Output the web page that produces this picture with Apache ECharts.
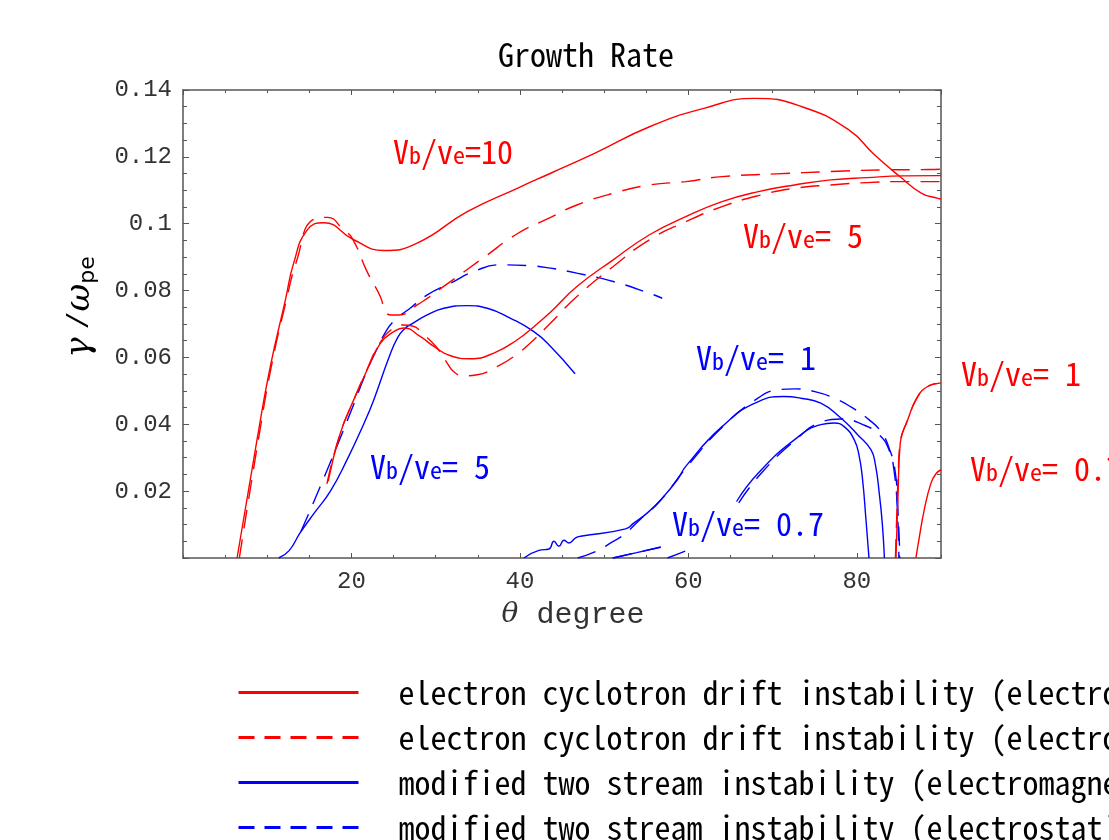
<!DOCTYPE html>
<html>
<head>
<meta charset="utf-8">
<title>Growth Rate</title>
<script src="https://cdn.jsdelivr.net/npm/echarts@6.0.0/dist/echarts.min.js"></script>
<style>
  html, body { margin: 0; padding: 0; background: #fff; }
  #chart { width: 1109px; height: 840px; }
</style>
</head>
<body>
<div id="chart"></div>
<script>
// legend names
const ECDI_EM = 'electron cyclotron drift instability (electromagnetic)'
const ECDI_ES = 'electron cyclotron drift instability (electrostatic)'
const MTSI_EM = 'modified two stream instability (electromagnetic)'
const MTSI_ES = 'modified two stream instability (electrostatic)'

// [theta degree, gamma / omega_pe]
// electron cyclotron drift instability, red
const ecdiEm10 = [[6.42, 0], [8.79, 0.0354], [10.37, 0.0573], [12.16, 0.0772], [13.14, 0.0882], [14.74, 0.0981], [16.71, 0.1003], [20.27, 0.0952], [23.84, 0.0920], [27.81, 0.0942], [33.75, 0.1036], [39.69, 0.1106], [43.65, 0.1151], [48.92, 0.1211], [55.39, 0.1290], [61.85, 0.1345], [67.88, 0.1375], [73.49, 0.1350], [79.09, 0.1280], [82.10, 0.1206], [85.12, 0.1141], [87.70, 0.1091], [89.64, 0.1076], [90, 0.1074]]
const ecdiEs10 = [[6.69, 0], [8.95, 0.0354], [10.49, 0.0573], [12.28, 0.0772], [13.46, 0.0886], [15.48, 0.1013], [17.15, 0.1019], [19.08, 0.0981], [20.08, 0.0957], [21.87, 0.0856], [23.45, 0.0781], [24.04, 0.0737], [24.75, 0.0727], [25.59, 0.0727], [27.81, 0.0757], [31.37, 0.0820], [35.72, 0.0899], [39.69, 0.0970], [43.65, 0.1019], [46.77, 0.1056], [51.08, 0.1091], [55.39, 0.1116], [59.69, 0.1126], [64.0, 0.1141], [70.47, 0.1149], [76.92, 0.1156], [83.40, 0.1161], [88.57, 0.1162], [90, 0.1163]]
const ecdiEm5 = [[17.23, 0.0229], [18.69, 0.0374], [20.27, 0.0473], [21.87, 0.0563], [23.45, 0.0643], [25.03, 0.0677], [26.21, 0.0688], [28.20, 0.0662], [29.78, 0.0633], [31.76, 0.0605], [34.14, 0.0596], [36.91, 0.0613], [39.69, 0.0653], [41.66, 0.0692], [43.65, 0.0736], [46.77, 0.0812], [51.08, 0.0892], [55.39, 0.0967], [59.69, 0.1021], [64.0, 0.1066], [68.31, 0.1096], [72.62, 0.1116], [76.92, 0.1131], [81.24, 0.1138], [85.55, 0.1143], [89.64, 0.1144], [90, 0.1144]]
const ecdiEs5 = [[17.09, 0.0222], [18.57, 0.0366], [20.18, 0.0467], [21.78, 0.0560], [23.33, 0.0641], [24.87, 0.0686], [26.06, 0.0697], [27.25, 0.0694], [28.59, 0.0668], [30.18, 0.0628], [31.37, 0.0583], [32.16, 0.0557], [33.35, 0.0545], [34.94, 0.0548], [37.31, 0.0573], [39.29, 0.0603], [41.66, 0.0653], [43.65, 0.0703], [46.77, 0.0782], [51.08, 0.0872], [55.39, 0.0952], [59.69, 0.1006], [64.0, 0.1051], [68.31, 0.1084], [72.62, 0.1106], [76.92, 0.1116], [81.24, 0.1123], [85.55, 0.1126], [90, 0.1126]]
const ecdiEm1 = [[84.65, 0], [84.88, 0.0174], [85.16, 0.0344], [86.04, 0.0413], [87.23, 0.0483], [88.41, 0.0513], [89.79, 0.0523], [90, 0.0524]]
const ecdiEs1 = [[84.59, 0], [84.77, 0.0144], [84.94, 0.0264], [85.16, 0.0344], [86.04, 0.0413], [87.23, 0.0483], [88.41, 0.0513], [89.79, 0.0523]]
const ecdiEm07 = [[87.02, 0], [87.38, 0.0055], [88.01, 0.0144], [88.81, 0.0224], [89.40, 0.0252], [90, 0.0264]]

// modified two stream instability, blue
const mtsiEm5 = [[11.36, 0], [12.6, 0.0022], [13.9, 0.0075], [15.6, 0.0135], [17.5, 0.0200], [19.5, 0.0295], [21.46, 0.0401], [22.65, 0.0473], [24.43, 0.0598], [25.5, 0.0660], [26.42, 0.0688], [27.0, 0.0698], [29.0, 0.0727], [30.97, 0.0747], [33.75, 0.0755], [36.13, 0.0747], [38.9, 0.0717], [41.66, 0.0677], [43.65, 0.0633], [46.55, 0.0551]]
const mtsiEs5 = [[14.0, 0.0079], [15.48, 0.0165], [17.03, 0.0258], [18.69, 0.0360], [20.24, 0.0458], [21.78, 0.0557], [22.97, 0.0622], [23.84, 0.0667], [25.03, 0.0709], [27.01, 0.0748], [29.0, 0.0787], [31.76, 0.0822], [34.53, 0.0857], [37.71, 0.0877], [40.88, 0.0875], [43.65, 0.0867], [46.77, 0.0852], [51.08, 0.0827], [55.39, 0.0792], [56.9, 0.0777]]
const mtsiEm1 = [[40.48, 0], [42.26, 0.0023], [43.45, 0.0027], [44.04, 0.0050], [44.63, 0.0035], [45.23, 0.0053], [45.82, 0.0045], [46.62, 0.0060], [47.21, 0.0065], [52.56, 0.0087], [53.55, 0.0105], [55.14, 0.0135], [56.72, 0.0174], [58.70, 0.0234], [59.69, 0.0274], [64.0, 0.0393], [68.31, 0.0468], [71.34, 0.0483], [73.36, 0.0478], [75.73, 0.0463], [78.11, 0.0419], [80.10, 0.0369], [81.68, 0.0324], [82.21, 0.0279], [82.69, 0.0189], [83.04, 0.0100], [83.28, 0]]
const mtsiEs1 = [[46.86, 0], [49.23, 0.0022], [50.78, 0.0045], [52.36, 0.0070], [54.34, 0.0117], [56.72, 0.0173], [59.93, 0.0276], [64.21, 0.0396], [68.31, 0.0479], [70.39, 0.0502], [72.64, 0.0506], [75.14, 0.0497], [77.52, 0.0476], [79.30, 0.0452], [81.44, 0.0414], [82.87, 0.0378], [83.82, 0.0330], [84.53, 0.0264], [84.88, 0.0144], [85.12, 0]]
const mtsiEm07a = [[50.98, 0], [53.87, 0.0016], [56.72, 0.0032]]
const mtsiEm07b = [[65.73, 0.0169], [68.31, 0.0254], [72.62, 0.0354], [75.73, 0.0399], [77.31, 0.0404], [78.50, 0.0393], [79.69, 0.0354], [80.29, 0.0304], [80.69, 0.0234], [81.09, 0.0115], [81.45, 0]]
const mtsiEs07a = [[51.13, 0], [56.72, 0.0033]]
const mtsiEs07b = [[57.52, 0], [60.08, 0.0025]]
const mtsiEs07c = [[65.99, 0.0165], [68.6, 0.0252], [72.76, 0.0354], [75.73, 0.0406], [78.11, 0.0416], [80.73, 0.0399], [82.63, 0.0369], [83.82, 0.0324], [84.41, 0.0264], [84.82, 0.0144], [85.0, 0]]

const GOTHIC = "'Noto Sans Mono CJK JP', 'Noto Sans CJK JP', monospace"
const MONO = "'Liberation Mono', 'DejaVu Sans Mono', monospace"
const SERIF = "'DejaVu Serif', 'Liberation Serif', serif"
const RED = '#ff0000'
const BLUE = '#0000ff'
const FRAME = '#555555'
const DASH = [19, 11]
const LEGEND_DASH = [16, 10]

function curve(name, color, dashed, data) {
  return {
    name: name,
    type: 'line',
    data: data,
    symbol: 'none',
    smooth: 0.5,
    color: color,
    lineStyle: { color: color, width: 1.4, type: dashed ? DASH : 'solid' },
    emphasis: { disabled: true },
  }
}

// V_b / v_e annotation with subscripts
function vLabel(x, y, color, value) {
  return {
    type: 'text',
    left: x,
    top: y,
    silent: true,
    style: {
      text: '{m|V}{s|b}{m|/v}{s|e}{m|=' + value + '}',
      rich: {
        m: { fontFamily: GOTHIC, fontSize: 32, lineHeight: 36, fill: color },
        s: { fontFamily: GOTHIC, fontSize: 24, fill: color, padding: [6, 0, 0, 0] },
      },
    },
  }
}

function xAxis(position, interval, tickLen, extra) {
  return Object.assign({
    type: 'value',
    position: position,
    min: 0,
    max: 90,
    interval: interval,
    axisLine: { show: false, onZero: false },
    axisTick: { inside: true, length: tickLen, lineStyle: { color: FRAME, width: 1 } },
    axisLabel: { show: false },
    splitLine: { show: false },
  }, extra || {})
}

function yAxis(position, extra) {
  return Object.assign({
    type: 'value',
    position: position,
    min: 0,
    max: 0.14,
    interval: 0.02,
    axisLine: { show: true, onZero: false, lineStyle: { color: FRAME, width: 1.5 } },
    axisTick: { inside: true, length: 6, lineStyle: { color: FRAME, width: 1 } },
    minorTick: { show: true, splitNumber: 4, length: 4, lineStyle: { color: FRAME, width: 1 } },
    axisLabel: { show: false },
    splitLine: { show: false },
  }, extra || {})
}

const chart = echarts.init(document.getElementById('chart'))

const option = {
  animation: false,
  backgroundColor: '#fff',
  title: {
    text: 'Growth Rate',
    left: 498,
    top: 39,
    padding: 0,
    textStyle: { fontFamily: GOTHIC, fontSize: 32, fontWeight: 'normal', color: '#000' },
  },
  legend: {
    orient: 'vertical',
    left: 237,
    top: 676,
    height: 220,
    padding: 0,
    itemWidth: 120,
    itemHeight: 4,
    itemGap: 12,
    data: [
      { name: ECDI_EM },
      { name: ECDI_ES, lineStyle: { type: LEGEND_DASH } },
      { name: MTSI_EM },
      { name: MTSI_ES, lineStyle: { type: LEGEND_DASH } },
    ],
    lineStyle: { width: 3 },
    itemStyle: { opacity: 0 },
    textStyle: { fontFamily: GOTHIC, fontSize: 32, lineHeight: 33, color: '#000', padding: [0, 0, 0, 35] },
  },
  grid: { left: 183, right: 168, top: 90, bottom: 282, containLabel: false },
  xAxis: [
    xAxis('bottom', 20, 5, {
      axisLine: { show: true, onZero: false, lineStyle: { color: FRAME, width: 1.5 } },
      axisLabel: { show: true, showMinLabel: false, showMaxLabel: false, margin: 12, fontFamily: MONO, fontSize: 24, color: '#333' },
      name: '{t|θ} degree',
      nameLocation: 'middle',
      nameGap: 42,
      nameTextStyle: {
        fontFamily: MONO, fontSize: 30, color: '#333', padding: [0, 0, 0, 22],
        rich: { t: { fontFamily: SERIF, fontStyle: 'italic', fontSize: 28, color: '#333' } },
      },
    }),
    xAxis('bottom', 5, 3),
    xAxis('top', 20, 5, { axisLine: { show: true, onZero: false, lineStyle: { color: FRAME, width: 1.5 } } }),
    xAxis('top', 5, 3),
  ],
  yAxis: [
    yAxis('left', {
      axisLabel: { show: true, showMinLabel: false, margin: 11, fontFamily: MONO, fontSize: 24, color: '#333' },
      name: '{g|γ}{n|/}{g|ω}{s|pe}',
      nameLocation: 'middle',
      nameRotate: 90,
      nameGap: 84,
      nameTextStyle: {
        fontFamily: MONO, fontSize: 30, color: '#000', padding: [0, 0, 0, 34],
        rich: {
          g: { fontFamily: SERIF, fontStyle: 'italic', fontSize: 34, color: '#000' },
          n: { fontFamily: MONO, fontSize: 30, color: '#000', padding: [0, 0, 0, 8] },
          s: { fontFamily: "'DejaVu Sans', sans-serif", fontSize: 22, color: '#000', padding: [16, 0, 0, 0] },
        },
      },
    }),
    yAxis('right'),
  ],
  graphic: [
    vLabel(393, 136, RED, '10'),
    vLabel(743, 220, RED, ' 5'),
    vLabel(370, 451, BLUE, ' 5'),
    vLabel(696, 342, BLUE, ' 1'),
    vLabel(672, 508, BLUE, ' 0.7'),
    vLabel(961, 358, RED, ' 1'),
    vLabel(970, 453, RED, ' 0.7'),
  ],
  series: [
    curve(MTSI_EM, BLUE, false, mtsiEm5),
    curve(MTSI_ES, BLUE, true, mtsiEs5),
    curve(MTSI_EM, BLUE, false, mtsiEm1),
    curve(MTSI_ES, BLUE, true, mtsiEs1),
    curve(MTSI_EM, BLUE, false, mtsiEm07a),
    curve(MTSI_EM, BLUE, false, mtsiEm07b),
    curve(MTSI_ES, BLUE, true, mtsiEs07a),
    curve(MTSI_ES, BLUE, true, mtsiEs07b),
    curve(MTSI_ES, BLUE, true, mtsiEs07c),
    curve(ECDI_EM, RED, false, ecdiEm10),
    curve(ECDI_ES, RED, true, ecdiEs10),
    curve(ECDI_EM, RED, false, ecdiEm5),
    curve(ECDI_ES, RED, true, ecdiEs5),
    curve(ECDI_EM, RED, false, ecdiEm1),
    curve(ECDI_ES, RED, true, ecdiEs1),
    curve(ECDI_EM, RED, false, ecdiEm07),
  ],
}

chart.setOption(option)
window.onresize = chart.resize
</script>
</body>
</html>
